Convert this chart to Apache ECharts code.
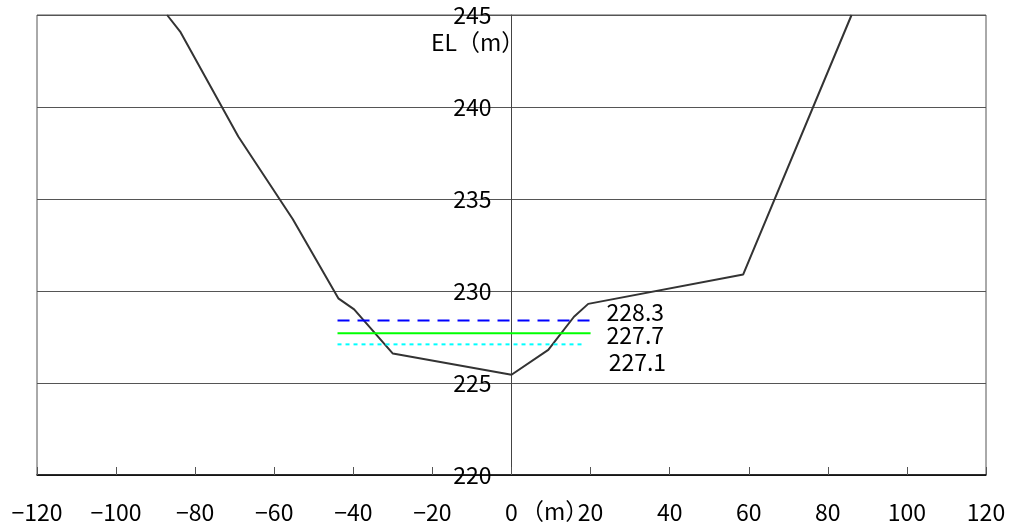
<!DOCTYPE html>
<html>
<head>
<meta charset="utf-8">
<script src="https://cdn.jsdelivr.net/npm/echarts@6/dist/echarts.min.js"></script>
<style>
html, body { margin: 0; padding: 0; background: #fff; }
#container { width: 1014px; height: 529px; }
</style>
</head>
<body>
<div id="container"></div>
<script>
var dom = document.getElementById("container");
var myChart = echarts.init(dom);

// 横断面 (距離 m, 標高 EL m)
var profileX = [-87.1, -83.8, -69.1, -55.3, -43.8, -39.8, -30.0, 0, 9.3, 15.8, 19.4, 58.6, 86.0];
var profileY = [245.0, 244.1, 238.4, 233.9, 229.6, 229.0, 226.6, 225.45, 226.8, 228.6, 229.3, 230.9, 245.0];

// 水位線
var levelNames = ['228.3', '227.7', '227.1'];
var levelValues = [228.4, 227.7, 227.1];
var levelFrom = [-44, -44, -44];
var levelTo = [20, 20, 18.5];
var levelColors = ['#0000ff', '#00ff00', '#00ffff'];
var levelTypes = [[12, 8], 'solid', [4, 4]];
var levelLabelOffset = [[16, -8], [16, 2], [24, 18]];

var font = '"Noto Sans CJK JP", "Noto Sans", sans-serif';

function minus(v) {
    return String(v).replace('-', '\u2212');
}

var profileData = [];
for (var i = 0; i < profileX.length; i++) {
    profileData.push([profileX[i], profileY[i]]);
}

var series = [{
    type: 'line',
    data: profileData,
    symbol: 'none',
    lineStyle: { color: '#333', width: 2 },
    z: 3
}];

for (var j = 0; j < levelValues.length; j++) {
    series.push({
        type: 'line',
        name: levelNames[j],
        data: [[levelFrom[j], levelValues[j]], [levelTo[j], levelValues[j]]],
        symbol: 'none',
        lineStyle: { color: levelColors[j], width: 2, type: levelTypes[j] },
        endLabel: {
            show: true,
            formatter: levelNames[j],
            color: '#000',
            fontSize: 23,
            fontFamily: font,
            offset: levelLabelOffset[j],
            distance: 0
        },
        z: 4
    });
}

option = {
    animation: false,
    grid: {
        left: 37, right: 28, top: 15, bottom: 54,
        outerBoundsMode: 'none',
        containLabel: false,
        show: true,
        borderColor: '#555',
        borderWidth: 1
    },
    xAxis: {
        type: 'value',
        min: -120, max: 120, interval: 20,
        axisLine: { lineStyle: { color: '#000', width: 1.5 } },
        axisTick: { inside: true, length: 8, lineStyle: { color: '#555' } },
        axisLabel: {
            color: '#000', fontSize: 23, fontFamily: font, margin: 26,
            formatter: function (v) { return minus(v); }
        },
        splitLine: { show: false }
    },
    yAxis: {
        type: 'value',
        min: 220, max: 245, interval: 5,
        offset: -474.5,
        axisLine: { show: true, onZero: false, lineStyle: { color: '#444', width: 1 } },
        axisTick: { show: false },
        axisLabel: { color: '#000', fontSize: 23, fontFamily: font, margin: 20 },
        splitLine: { show: true, lineStyle: { color: '#555', width: 1 } }
    },
    graphic: [{
        type: 'text',
        left: 431, top: 31,
        style: { text: 'EL（m）', fontSize: 23, fontFamily: font, fill: '#000' }
    }, {
        type: 'text',
        left: 521, top: 500,
        style: { text: '（m）', fontSize: 23, fontFamily: font, fill: '#000' }
    }],
    series: series
};

myChart.setOption(option, true);
</script>
</body>
</html>
